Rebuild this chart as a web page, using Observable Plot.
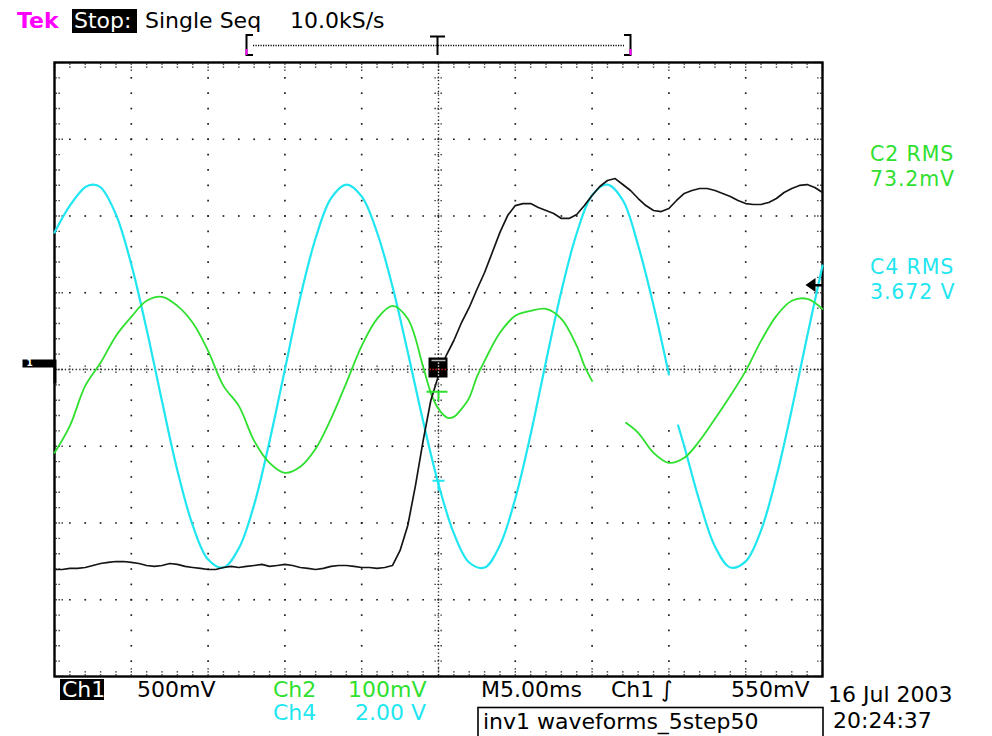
<!DOCTYPE html>
<html>
<head>
<meta charset="utf-8">
<title>inv1 waveforms_5step50</title>
<script src="https://cdn.jsdelivr.net/npm/d3@7"></script>
<script src="https://cdn.jsdelivr.net/npm/@observablehq/plot@0.6"></script>
<style>
  html, body { margin: 0; padding: 0; background: #fff; overflow: hidden; }
  #screen { position: relative; width: 992px; height: 736px; }
  #screen > svg { position: absolute; left: 0; top: 0; }
</style>
</head>
<body>
<div id="screen"></div>
<script>
// ---- Acquisition settings -------------------------------------------------
const timePerDiv = 5;                 // ms / division
const sampleRate = "10.0kS/s";
const acqMode = "Single Seq";
const timeDivisions = 10;
const voltDivisions = 8;

const ch1 = { label: "Ch1", perDiv: 500, unit: "mV", position: 0,     color: "#151515" };
const ch2 = { label: "Ch2", perDiv: 100, unit: "mV", position: -0.2,  color: "#2fe02f" };
const ch4 = { label: "Ch4", perDiv: 2,   unit: "V",  position: -0.09, color: "#1fe6f0" };

const triggerLevel = 550;             // mV on Ch1, rising edge
const triggerTime = 0;                // ms
const measurements = [
  { label: "C2 RMS", value: "73.2mV",  color: ch2.color },
  { label: "C4 RMS", value: "3.672 V", color: ch4.color }
];
const stamp = { date: "16 Jul 2003", time: "20:24:37", file: "inv1 waveforms_5step50" };

// Screen area blanked by the instrument's overlay (ms, divisions)
const blanked = { t1: 9.9, t2: 15.8, y1: -0.72, y2: -0.08 };

// ---- Waveforms: [time ms, value in the channel's unit]; null = not displayed
const ch1Trace = [
  [-25,-1303],[-24.5,-1303],[-24,-1296],[-23.5,-1296],[-23,-1290],[-22.5,-1277],[-22,-1264],
  [-21.5,-1257],[-21,-1251],[-20.5,-1251],[-20,-1257],[-19.5,-1264],[-19,-1277],[-18.5,-1283],
  [-18,-1277],[-17.5,-1264],[-17,-1270],[-16.5,-1283],[-16,-1290],[-15.5,-1296],[-15,-1303],
  [-14.5,-1303],[-14,-1290],[-13.5,-1283],[-13,-1290],[-12.5,-1283],[-12,-1277],[-11.5,-1270],
  [-11,-1283],[-10.5,-1277],[-10,-1270],[-9.5,-1277],[-9,-1290],[-8.5,-1296],[-8,-1303],
  [-7.5,-1296],[-7,-1283],[-6.5,-1277],[-6,-1277],[-5.5,-1283],[-5,-1290],[-4.5,-1290],
  [-4,-1296],[-3.5,-1290],[-3,-1277],
  [-2.5,-1179],[-2,-1016],[-1.5,-756],[-1,-463],[-0.5,-202],[0,-39],[0.5,91],[1,189],[1.5,306],
  [2,404],[2.5,521],[3,632],[3.5,762],[4,893],[4.5,1003],[5,1068],[5.5,1081],[6,1081],[6.5,1055],
  [7,1036],[7.5,1016],[8,984],[8.5,984],[9,1010],[9.5,1068],[10,1134],[10.5,1192],[11,1231],
  [11.5,1244],[12,1205],[12.5,1166],[13,1114],[13.5,1068],[14,1036],[14.5,1029],[15,1049],
  [15.5,1101],[16,1147],[16.5,1166],[17,1179],[17.5,1179],[18,1166],[18.5,1147],[19,1127],
  [19.5,1101],[20,1081],[20.5,1075],[21,1075],[21.5,1088],[22,1114],[22.5,1153],[23,1179],
  [23.5,1199],[24,1205],[24.5,1186],[25,1153]
];
const ch2Trace = [
  [-25,-88.6],[-24,-53.4],[-23,-1.3],[-22,28.7],[-21,63.8],[-20,88.6],[-19,109.5],[-18,114.7],
  [-17,102.9],[-16,80.8],[-15,44.3],[-14,-1.3],[-13,-27.4],[-12,-73.0],[-11,-101.6],[-10,-114.7],
  [-9,-106.8],[-8,-83.4],[-7,-44.3],[-6,2.6],[-5,50.8],[-4,86.0],[-3,102.9],[-2,86.0],[-1,23.5],
  [-0.5,-10.4],[0,-31.3],[0.6,-43.0],[1,-41.7],[1.5,-31.3],[2,-16.9],[2.5,10.4],[3,31.3],[4,67.8],
  [5,89.9],[6,96.4],[7,99.0],[8,86.0],[9,50.8],[9.5,24.8],[10,5.2],[11,null],[12.2,-49.5],
  [13,-62.5],[14,-88.6],[15,-101.6],[16,-95.1],[17,-72.9],[18,-44.3],[19,-14.3],[20,18.2],
  [21,57.3],[22,89.9],[23,109.5],[24,112.1],[25,99.0]
];
const ch4Trace = [
  [-25,3.75],[-24,4.45],[-23,4.93],[-22.5,5.00],[-22,4.93],[-21,4.22],[-20,2.92],[-19,1.22],
  [-18,-0.65],[-17,-2.45],[-16,-3.88],[-15,-4.77],[-14,-4.98],[-13,-4.48],[-12,-3.34],[-11,-1.69],
  [-10,0.18],[-9,2.06],[-8,3.60],[-7,4.64],[-6,5.00],[-5,4.69],[-4,3.75],[-3,2.35],[-2,0.63],
  [-1,-1.17],[0,-2.81],[1,-4.09],[2,-4.85],[3,-4.98],[4,-4.40],[5,-3.18],[6,-1.51],[7,0.39],
  [8,2.22],[9,3.73],[10,4.72],[11,5.00],[12,4.59],[13,3.41],[14,1.85],[15,0.05],[15.3,null],
  [15.6,-1.28],[16,-1.82],[17,-3.26],[18,-4.43],[19,-4.98],[20,-4.82],[21,-4.01],[22,-2.61],
  [23,-0.86],[24,1.04],[25,2.89]
];

// Channel reference markers drawn at the trigger position (screen divisions)
const ch2Marker = -0.29;
const ch4Marker = -1.45;

// ---- Helpers --------------------------------------------------------------
const tHalf = timeDivisions * timePerDiv / 2;
const yHalf = voltDivisions / 2;
const toScreen = (trace, ch) =>
  trace.map(([t, v]) => ({ t, y: v == null ? NaN : v / ch.perDiv + ch.position }));
const near = (a, b) => Math.abs(a - b) < 1e-6;
const isBlanked = d => d.t > blanked.t1 && d.t < blanked.t2 && d.y > blanked.y1 && d.y < blanked.y2;

const tMajor = d3.range(-tHalf, tHalf + 1e-6, timePerDiv);
const yMajor = d3.range(-yHalf, yHalf + 1e-6, 1);
const tMinor = d3.range(-tHalf, tHalf + 1e-6, timePerDiv / 5);
const yMinor = d3.range(-yHalf, yHalf + 1e-6, 0.2);
const isMajorT = t => tMajor.some(m => near(m, t));
const isMajorY = y => yMajor.some(m => near(m, y));

const innerT = tMajor.filter(t => !near(Math.abs(t), tHalf) && !near(t, 0));
const innerY = yMajor.filter(y => !near(Math.abs(y), yHalf) && !near(y, 0));
const gridDots = [
  ...innerT.flatMap(t => yMinor.filter(y => !near(Math.abs(y), yHalf)).map(y => ({ t, y }))),
  ...innerY.flatMap(y => tMinor.filter(t => !near(Math.abs(t), tHalf)).map(t => ({ t, y })))
].filter(d => !isBlanked(d));

// Small path symbols measured in pixels
const path = fn => ({ draw(ctx) { fn(ctx); } });
const seg = (x1, y1, x2, y2) => path(c => { c.moveTo(x1, y1); c.lineTo(x2, y2); });
const tickStyle = { fill: "none", stroke: "#222", strokeWidth: 1.4, strokeDasharray: "1.3,1.7" };

const edgeTicks = [
  // left & right edges
  Plot.dot(yMinor.map(y => ({ t: -tHalf, y })), { x: "t", y: "y", symbol: d => isMajorY(d.y) ? "L" : "l", ...tickStyle }),
  Plot.dot(yMinor.map(y => ({ t: tHalf, y })),  { x: "t", y: "y", symbol: d => isMajorY(d.y) ? "R" : "r", ...tickStyle }),
  // top & bottom edges
  Plot.dot(tMinor.map(t => ({ t, y: yHalf })),  { x: "t", y: "y", symbol: d => isMajorT(d.t) ? "T" : "t", ...tickStyle }),
  Plot.dot(tMinor.map(t => ({ t, y: -yHalf })), { x: "t", y: "y", symbol: d => isMajorT(d.t) ? "B" : "b", ...tickStyle })
];

const plot = Plot.plot({
  width: 992,
  height: 736,
  marginLeft: 54,
  marginRight: 170,
  marginTop: 62,
  marginBottom: 60,
  style: { background: "transparent", overflow: "visible" },
  x: { domain: [-tHalf, tHalf], axis: null },
  y: { domain: [-yHalf, yHalf], axis: null },
  symbol: {
    domain: ["L", "l", "R", "r", "T", "t", "B", "b"],
    range: [
      seg(1, 0, 10, 0), seg(1, 0, 6, 0), seg(-1, 0, -10, 0), seg(-1, 0, -6, 0),
      seg(0, 1, 0, 10), seg(0, 1, 0, 6), seg(0, -1, 0, -10), seg(0, -1, 0, -6)
    ]
  },
  marks: [
    // graticule
    Plot.dot(gridDots, { x: "t", y: "y", symbol: "square", r: 0.95, fill: "#1c1c1c" }),
    Plot.ruleX([0], { stroke: "#222", strokeWidth: 1.4, strokeDasharray: "1.3,2.3" }),
    Plot.ruleY([0], { stroke: "#222", strokeWidth: 1.4, strokeDasharray: "1.3,2.3" }),
    Plot.dot(yMinor.map(y => ({ t: 0, y })), { x: "t", y: "y", symbol: seg(-4, 0, 4, 0), ...tickStyle }),
    Plot.dot(tMinor.map(t => ({ t, y: 0 })), { x: "t", y: "y", symbol: seg(0, -4, 0, 4), ...tickStyle }),
    ...edgeTicks,
    Plot.frame({ stroke: "#000", strokeWidth: 2.4 }),

    // waveforms
    Plot.line(toScreen(ch4Trace, ch4), { x: "t", y: "y", stroke: ch4.color, strokeWidth: 2.2, curve: "catmull-rom" }),
    Plot.line(toScreen(ch2Trace, ch2), { x: "t", y: "y", stroke: ch2.color, strokeWidth: 1.8, curve: "catmull-rom" }),
    Plot.line(toScreen(ch1Trace, ch1), { x: "t", y: "y", stroke: ch1.color, strokeWidth: 1.7 }),

    // Ch1 ground marker on the left edge
    Plot.dot([{ t: -tHalf, y: ch1.position }], {
      x: "t", y: "y", fill: "#000", stroke: "none",
      symbol: path(c => { c.rect(-32, -10, 32, 8); c.rect(-1, -10, 3, 24); })
    }),
    Plot.text([{ t: -tHalf, y: ch1.position }], {
      x: "t", y: "y", text: () => "1", dx: -25, dy: -6, fill: "#fff",
      fontSize: 9, fontWeight: "bold", fontFamily: "DejaVu Sans"
    }),

    // trigger level arrow on the right edge
    Plot.dot([{ t: tHalf, y: triggerLevel / ch1.perDiv + ch1.position }], {
      x: "t", y: "y", fill: "#000", stroke: "none",
      symbol: path(c => { c.moveTo(-17, 0); c.lineTo(-7, -7); c.lineTo(-7, 7); c.closePath(); c.rect(-7, -1, 7, 2.4); })
    }),

    // trigger point marker
    Plot.dot([{ t: triggerTime, y: 0 }], {
      x: "t", y: "y", fill: "#000", stroke: "none",
      symbol: path(c => c.rect(-10, -12, 19, 20))
    }),
    Plot.dot([{ t: triggerTime, y: 0 }], { x: "t", y: "y", symbol: seg(-7, -9, 7, -9), fill: "none", stroke: "#bbb", strokeWidth: 1.5 }),
    Plot.dot([{ t: triggerTime, y: 0 }], { x: "t", y: "y", symbol: seg(0, -7, 0, 7), fill: "none", stroke: "#fff", strokeWidth: 1.4, strokeDasharray: "1.3,1.7" }),
    Plot.dot([{ t: triggerTime, y: 0 }], { x: "t", y: "y", symbol: seg(-9, 0, 8, 0), fill: "none", stroke: "#e22", strokeWidth: 1.4, strokeDasharray: "1.3,1.7" }),

    // channel reference markers
    Plot.dot([{ t: triggerTime, y: ch2Marker }], {
      x: "t", y: "y", fill: "none", stroke: ch2.color, strokeWidth: 2,
      symbol: path(c => { c.moveTo(-12, 0); c.lineTo(9, 0); c.moveTo(0, 0); c.lineTo(0, 9); })
    }),
    Plot.dot([{ t: triggerTime, y: ch4Marker }], {
      x: "t", y: "y", fill: "none", stroke: ch4.color, strokeWidth: 2,
      symbol: path(c => { c.moveTo(-6, 0); c.lineTo(6, 0); c.moveTo(0, 0); c.lineTo(0, 10); })
    })
  ]
});

const screen = document.getElementById("screen");
screen.appendChild(plot);

// ---- Readouts -------------------------------------------------------------
const svg = d3.select(screen).append("svg")
  .attr("width", 992).attr("height", 736)
  .style("font-family", "'DejaVu Sans', sans-serif");

function label(text, x, y, opts = {}) {
  return svg.append("text").attr("x", x).attr("y", y)
    .attr("font-size", opts.size || 22)
    .attr("fill", opts.color || "#000")
    .attr("font-weight", opts.weight || "normal")
    .attr("letter-spacing", opts.spacing || 0)
    .text(text);
}
function invLabel(text, x, y, w, h, bx, by) {
  svg.append("rect").attr("x", bx).attr("y", by).attr("width", w).attr("height", h).attr("fill", "#000");
  label(text, x, y, { color: "#fff" });
}

// header
label("Tek", 17, 28, { color: "#ff00ff", weight: "bold" });
invLabel("Stop:", 74, 28, 65, 24, 72, 9);
label(acqMode, 145, 28);
label(sampleRate, 290, 28);

// record view bracket with trigger position
const br = svg.append("g").attr("stroke", "#000").attr("fill", "none").attr("stroke-width", 2);
br.append("path").attr("d", "M253,35 H246.5 V55 H253");
br.append("path").attr("d", "M624,35 H630.5 V55 H624");
br.append("line").attr("x1", 253).attr("x2", 624).attr("y1", 45.5).attr("y2", 45.5)
  .attr("stroke-width", 1.3).attr("stroke-dasharray", "1.2,1.3");
br.append("path").attr("d", "M430,36.5 H445 M437.5,36.5 V55");
svg.append("path").attr("d", "M246.5,49 V55 M630.5,49 V55").attr("stroke", "#ff00ff").attr("stroke-width", 2);

// measurements: label above value
measurements.forEach((m, i) => {
  const y0 = 161 + i * 113;
  label(m.label, 870, y0, { size: 20.5, color: m.color, spacing: 0.9 });
  label(m.value, 870, y0 + 25, { size: 20.5, color: m.color, spacing: 0.9 });
});

// channel scale readouts
const fmtScale = ch => ch.unit === "V" ? `${ch.perDiv.toFixed(2)} V` : `${ch.perDiv}${ch.unit}`;
invLabel(ch1.label, 62, 697, 44, 21, 60, 679);
label(fmtScale(ch1), 137, 697);
label(ch2.label, 273, 697, { color: ch2.color });
label(fmtScale(ch2), 348, 697, { color: ch2.color });
label(ch4.label, 273, 720, { color: ch4.color });
label(fmtScale(ch4), 355, 720, { color: ch4.color });

// timebase & trigger readouts
label(`M${timePerDiv.toFixed(2)}ms`, 481, 697);
label(ch1.label, 611, 697);
label("\u222B", 661, 697);
label(`${triggerLevel}mV`, 731, 697);

// date / time stamp and file label
label(stamp.date, 828, 702);
label(stamp.time, 833, 728);
svg.append("rect").attr("x", 478).attr("y", 707.5).attr("width", 345).attr("height", 40)
  .attr("fill", "none").attr("stroke", "#000").attr("stroke-width", 1.6);
label(stamp.file, 483, 729);
</script>
</body>
</html>
